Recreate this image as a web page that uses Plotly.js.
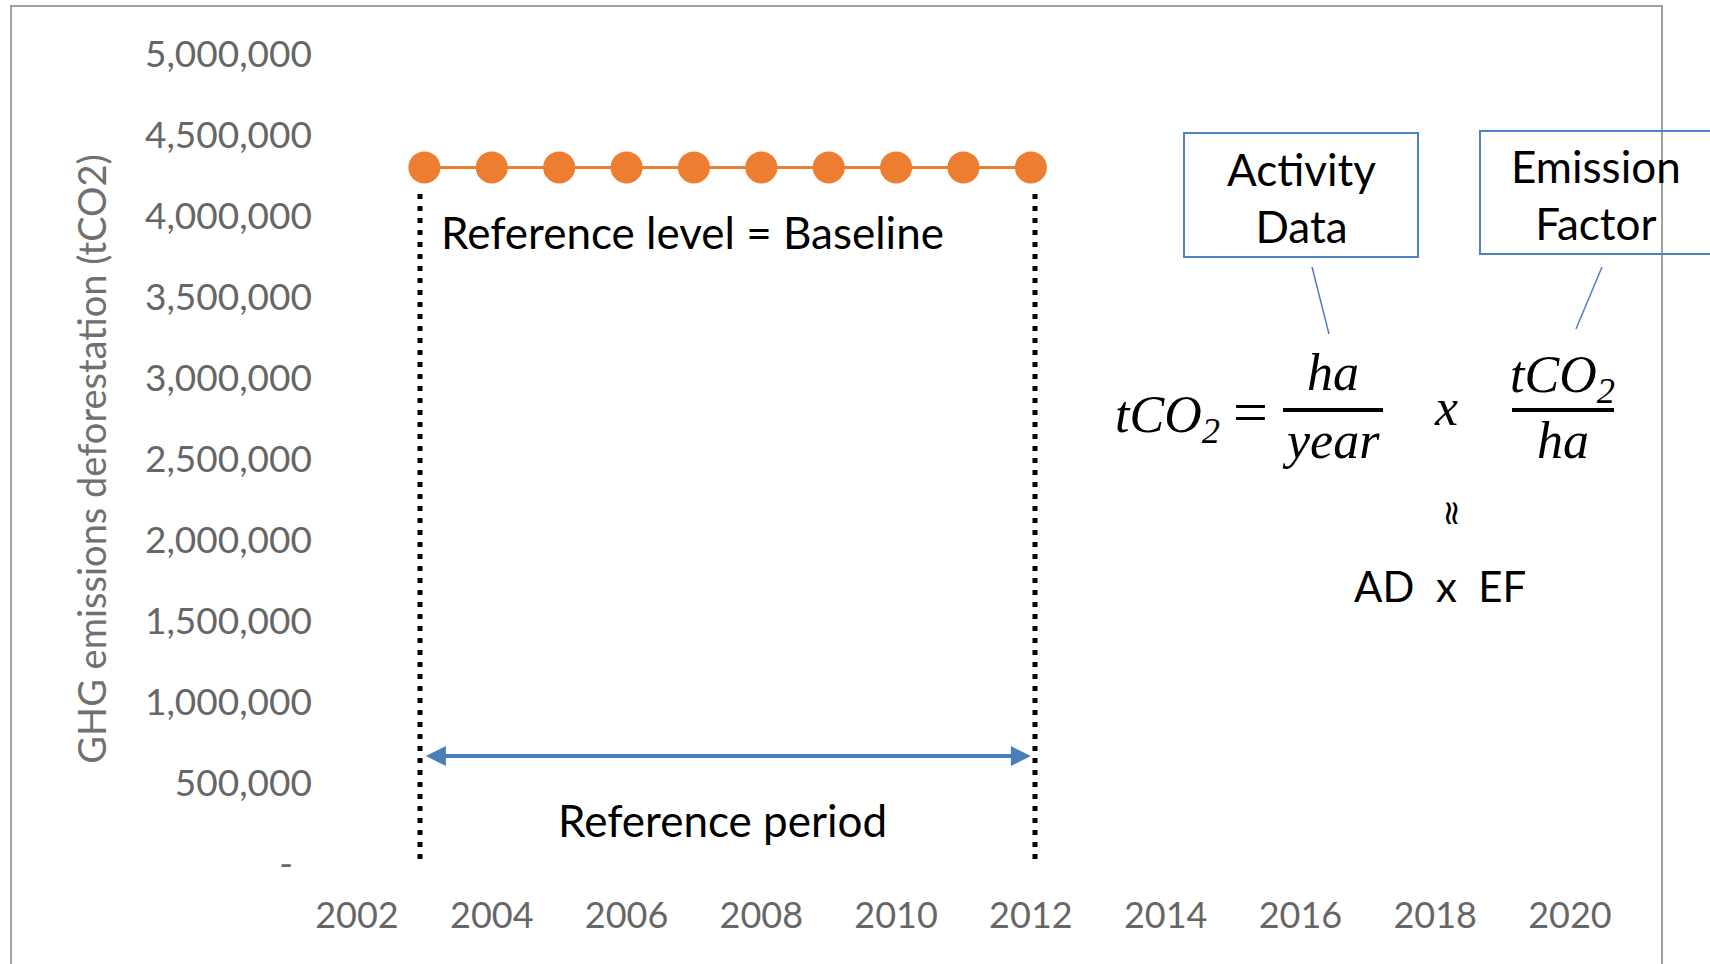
<!DOCTYPE html>
<html>
<head>
<meta charset="utf-8">
<script src="https://cdn.plot.ly/plotly-3.0.1.min.js"></script>
<style>html,body{margin:0;padding:0;background:#fff;}#chart{width:1710px;height:964px;}</style>
</head>
<body>
<div id="chart"></div>
<script>
// ---- data ----
const years = [2003, 2004, 2005, 2006, 2007, 2008, 2009, 2010, 2011, 2012];
const baselineEmissions = [4300000, 4300000, 4300000, 4300000, 4300000, 4300000, 4300000, 4300000, 4300000, 4300000];
const xTickVals = [2002, 2004, 2006, 2008, 2010, 2012, 2014, 2016, 2018, 2020];
const xTickText = ['2002', '2004', '2006', '2008', '2010', '2012', '2014', '2016', '2018', '2020'];
const yTickVals = [0, 500000, 1000000, 1500000, 2000000, 2500000, 3000000, 3500000, 4000000, 4500000, 5000000];
const yTickText = ['-&nbsp;&nbsp;', '500,000', '1,000,000', '1,500,000', '2,000,000', '2,500,000', '3,000,000', '3,500,000', '4,000,000', '4,500,000', '5,000,000'];
const refStart = 2003;
const refEnd = 2012;
const arrowLevel = 666000;

// ---- layout helpers (pixel -> paper) ----
const W = 1710, H = 964;
const ML = 357, MR = 140, MT = 54, MB = 100;
const PW = W - ML - MR, PH = H - MT - MB;
const px = x => (x - ML) / PW;
const py = y => (H - MB - y) / PH;

const textFont = {family: 'Lato, "Open Sans", sans-serif', size: 44, color: '#000000'};
const mathFont = {family: '"Liberation Serif", "DejaVu Serif", serif', size: 52, color: '#000000', style: 'italic'};
const blue = '#4F7FC4';

function ann(text, x, y, font, extra) {
  return Object.assign({text: text, xref: 'paper', yref: 'paper', x: px(x), y: py(y),
    xanchor: 'center', yanchor: 'middle', showarrow: false, font: font}, extra || {});
}
function pline(x0, y0, x1, y1, line) {
  return {type: 'line', xref: 'paper', yref: 'paper', x0: px(x0), y0: py(y0), x1: px(x1), y1: py(y1), line: line};
}
function prect(x0, y0, x1, y1, line) {
  return {type: 'rect', xref: 'paper', yref: 'paper', x0: px(x0), y0: py(y0), x1: px(x1), y1: py(y1), line: line, fillcolor: 'rgba(0,0,0,0)'};
}

const trace = {
  x: years, y: baselineEmissions, type: 'scatter', mode: 'lines+markers',
  line: {color: '#ED7D31', width: 3},
  marker: {color: '#ED7D31', size: 32},
  hoverinfo: 'x+y', cliponaxis: false
};

const dotted = {color: '#000000', width: 5, dash: '5px,7px'};

const layout = {
  width: W, height: H,
  margin: {l: ML, r: MR, t: MT, b: MB},
  paper_bgcolor: '#ffffff', plot_bgcolor: '#ffffff',
  showlegend: false,
  xaxis: {
    range: [2002, 2020], tickvals: xTickVals, ticktext: xTickText,
    showgrid: false, zeroline: false, showline: false, ticks: '',
    ticklabelstandoff: 27,
    tickfont: {family: 'Lato, "Open Sans", sans-serif', size: 36, color: '#666666'}
  },
  yaxis: {
    range: [0, 5000000], tickvals: yTickVals, ticktext: yTickText,
    showgrid: false, zeroline: false, showline: false, ticks: '',
    ticklabelstandoff: 44,
    tickfont: {family: 'Lato, "Open Sans", sans-serif', size: 37, color: '#666666'},
    title: {text: 'GHG emissions deforestation (tCO2)', standoff: 26,
      font: {family: 'Lato, "Open Sans", sans-serif', size: 38, color: '#707070'}}
  },
  shapes: [
    prect(11, 6, 1662, 1000, {color: '#a0a0a0', width: 2}),
    pline(420, 194, 420, 862, dotted),
    pline(1035, 194, 1035, 862, dotted),
    prect(1184, 133, 1418, 257, {color: blue, width: 2}),
    prect(1480, 131, 1720, 254, {color: blue, width: 2}),
    pline(1312, 267, 1329, 334, {color: blue, width: 1.5}),
    pline(1602, 267, 1576, 329, {color: blue, width: 1.5}),
    pline(1283, 410, 1383, 410, {color: '#000000', width: 4}),
    pline(1512, 410, 1614, 410, {color: '#000000', width: 4})
  ],
  annotations: [
    ann('Reference level = Baseline', 692, 232, textFont),
    ann('Reference period', 722, 820, textFont),
    ann('Activity<br>Data', 1301, 197, textFont),
    ann('Emission<br>Factor', 1596, 195, textFont),
    ann('tCO<sub>2</sub>', 1167, 418, mathFont),
    ann('=', 1250, 412, {family: '"Liberation Serif", serif', size: 62, color: '#000'}),
    ann('ha', 1333, 372, mathFont),
    ann('year', 1331, 440, mathFont),
    ann('x', 1446, 408, mathFont),
    ann('tCO<sub>2</sub>', 1562, 378, mathFont),
    ann('ha', 1563, 440, mathFont),
    ann('≈', 1453, 513, {family: '"DejaVu Sans", sans-serif', size: 34, color: '#000'}, {textangle: 90}),
    ann('AD&nbsp;&nbsp;x&nbsp;&nbsp;EF', 1440, 586, Object.assign({}, textFont, {size: 42})),
    {x: refEnd, y: arrowLevel, ax: refStart, ay: arrowLevel, xref: 'x', yref: 'y', axref: 'x', ayref: 'y',
     text: '', showarrow: true, arrowside: 'end+start', arrowhead: 2, startarrowhead: 2,
     arrowsize: 1, startarrowsize: 1, arrowwidth: 4, arrowcolor: '#4A7EBB'}
  ]
};

Plotly.newPlot('chart', [trace], layout, {displayModeBar: false, staticPlot: true});
</script>
</body>
</html>
